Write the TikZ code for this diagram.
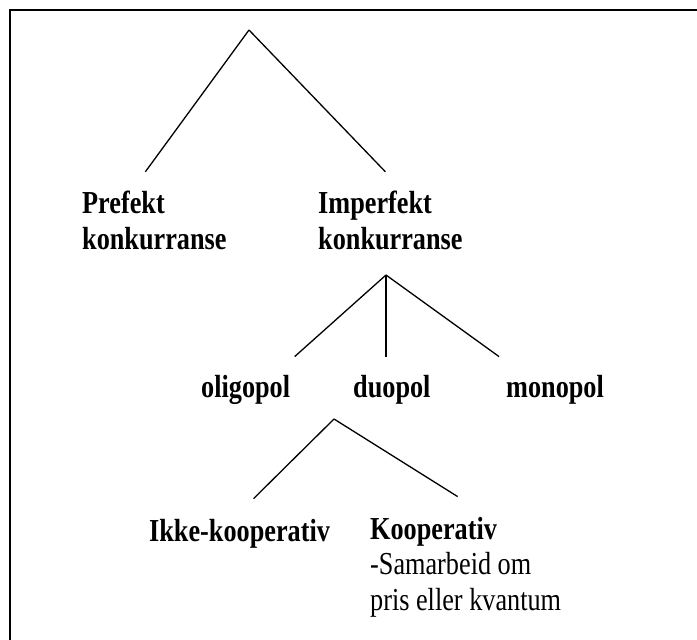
\documentclass[tikz,border=0pt]{standalone}
\usepackage{fontspec}
\setmainfont{Liberation Serif}[FakeStretch=0.82]
\begin{document}
\begin{tikzpicture}[x=1pt,y=-1pt,
    every node/.style={inner sep=0pt,anchor=base west,align=left,font=\fontsize{32}{35.5}\selectfont},
    term/.style={font=\fontsize{32}{35.5}\selectfont\bfseries},
    branch/.style={line width=1.3pt}]
  \useasboundingbox (0,0) rectangle (697,640);
  \draw[line width=1.8pt] (697,10) -- (10,10) -- (10,640);

  % market forms
  \coordinate (top) at (249,30);
  \path (82,249) node[term] (perf) {Prefekt\\konkurranse};
  \path (318,249) node[term] (imperf) {Imperfekt\\konkurranse};
  \draw[branch] (top) -- ([xshift=-9pt,yshift=19pt]perf.north);
  \draw[branch] (top) -- ([xshift=-5pt,yshift=19pt]imperf.north);

  % imperfect competition
  \coordinate (impfork) at (386,275);
  \path (201,397) node[term] (oligo) {oligopol};
  \path (353,397) node[term] (duo) {duopol};
  \path (506,397) node[term] (mono) {monopol};
  \draw[branch] (impfork) -- ([xshift=49pt,yshift=18pt]oligo.north);
  \draw[branch] (impfork) -- ([yshift=18pt]impfork |- duo.north);
  \draw[branch] (impfork) -- ([xshift=-56pt,yshift=18pt]mono.north);

  % duopol
  \coordinate (duofork) at (334,419);
  \path (149,541) node[term] (ikke) {Ikke-kooperativ};
  \path (370,610) node (koop) {\textbf{Kooperativ}\\-Samarbeid om\\pris eller kvantum};
  \draw[branch] (duofork) -- ([xshift=14pt,yshift=20pt]ikke.north);
  \draw[branch] (duofork) -- ([xshift=-8pt,yshift=20pt]koop.north);
\end{tikzpicture}
\end{document}
